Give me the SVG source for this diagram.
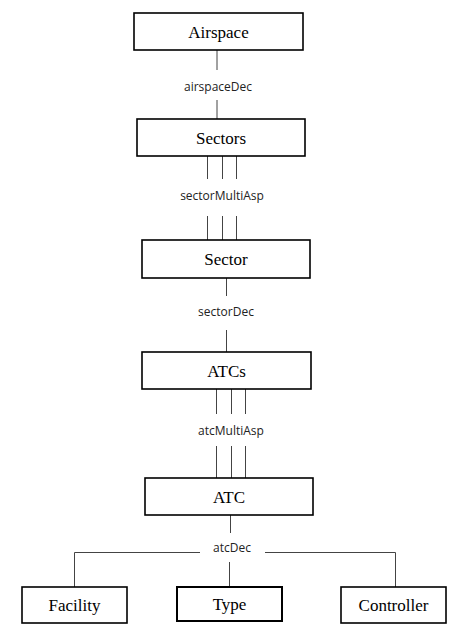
<svg xmlns="http://www.w3.org/2000/svg" width="465" height="634" viewBox="0 0 465 634">
<style>
.box{fill:#fff;stroke:#000;stroke-width:1.6}
.c{stroke:#444;stroke-width:1;fill:none}
</style>
<rect width="465" height="634" fill="#fff"/>
<g id="connectors">
<line class="c" x1="217" y1="50" x2="217" y2="70"/>
<line class="c" x1="217" y1="100" x2="217" y2="119"/>
<line class="c" x1="207.5" y1="156" x2="207.5" y2="179"/>
<line class="c" x1="222.5" y1="156" x2="222.5" y2="179"/>
<line class="c" x1="236.5" y1="156" x2="236.5" y2="179"/>
<line class="c" x1="207.5" y1="216" x2="207.5" y2="240"/>
<line class="c" x1="222.5" y1="216" x2="222.5" y2="240"/>
<line class="c" x1="236.5" y1="216" x2="236.5" y2="240"/>
<line class="c" x1="226.5" y1="278" x2="226.5" y2="296"/>
<line class="c" x1="226.5" y1="330" x2="226.5" y2="352"/>
<line class="c" x1="216.5" y1="389" x2="216.5" y2="414"/>
<line class="c" x1="231.5" y1="389" x2="231.5" y2="414"/>
<line class="c" x1="245.5" y1="389" x2="245.5" y2="414"/>
<line class="c" x1="216.5" y1="446" x2="216.5" y2="478"/>
<line class="c" x1="231.5" y1="446" x2="231.5" y2="478"/>
<line class="c" x1="245.5" y1="446" x2="245.5" y2="478"/>
<line class="c" x1="230.5" y1="515" x2="230.5" y2="533"/>
<polyline class="c" points="74.5,587 74.5,552.5 200,552.5"/>
<polyline class="c" points="265,552.5 395.5,552.5 395.5,587"/>
<line class="c" x1="229.5" y1="562" x2="229.5" y2="587"/>
<g font-family="Open Sans, DejaVu Sans, sans-serif" font-size="12" fill="#222" text-anchor="middle">
<text x="218" y="91">airspaceDec</text>
<text x="222" y="200">sectorMultiAsp</text>
<text x="226" y="316">sectorDec</text>
<text x="231" y="435">atcMultiAsp</text>
<text x="232" y="552">atcDec</text>
</g>
</g>
<g font-family="Liberation Serif, serif" font-size="17" fill="#000" text-anchor="middle">
<g id="airspace"><rect class="box" x="134" y="13" width="169" height="37"/><text x="218.5" y="38">Airspace</text></g>
<g id="sectors"><rect class="box" x="137" y="119" width="168" height="37"/><text x="221" y="144">Sectors</text></g>
<g id="sector"><rect class="box" x="142" y="240" width="168" height="38"/><text x="226" y="265">Sector</text></g>
<g id="atcs"><rect class="box" x="142" y="352" width="169" height="37"/><text x="226.5" y="377">ATCs</text></g>
<g id="atc"><rect class="box" x="145" y="478" width="168" height="37"/><text x="229" y="503">ATC</text></g>
<g id="facility"><rect class="box" x="22" y="587" width="105" height="36"/><text x="74.5" y="611">Facility</text></g>
<g id="type"><rect class="box" x="177" y="587" width="105" height="34" style="stroke-width:2"/><text x="229.5" y="610">Type</text></g>
<g id="controller"><rect class="box" x="341" y="587" width="105" height="36"/><text x="393.5" y="611">Controller</text></g>
</g>
</svg>
